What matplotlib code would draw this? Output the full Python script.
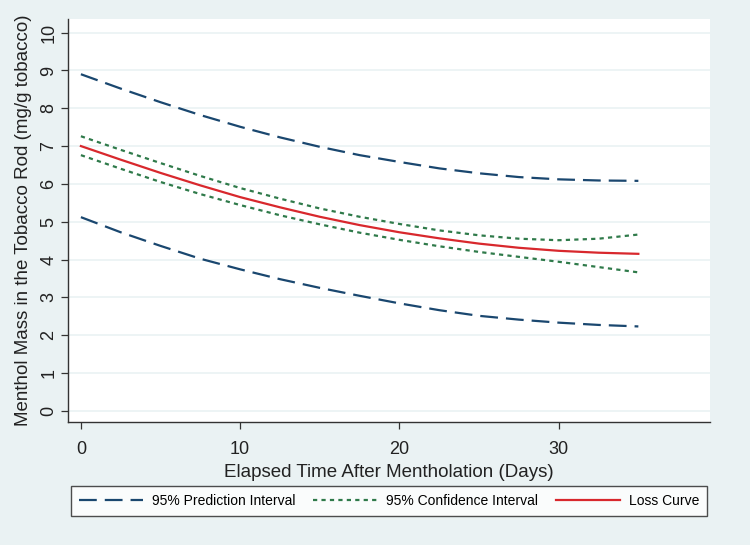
import numpy as np
import matplotlib
matplotlib.use("Agg")
import matplotlib.pyplot as plt

plt.rcParams['font.family'] = ['Liberation Sans', 'DejaVu Sans']

days = [0, 2.5, 5, 7.5, 10, 12.5, 15, 17.5, 20, 22.5, 25, 27.5, 30, 32.5, 35]

loss = [7.00, 6.64, 6.29, 5.96, 5.65, 5.38, 5.13, 4.91, 4.72, 4.56, 4.42, 4.31, 4.23, 4.18, 4.15]
ci_upper = [7.26, 6.90, 6.55, 6.21, 5.89, 5.61, 5.35, 5.13, 4.94, 4.77, 4.64, 4.55, 4.51, 4.55, 4.66]
ci_lower = [6.76, 6.40, 6.05, 5.73, 5.44, 5.17, 4.93, 4.71, 4.52, 4.35, 4.20, 4.07, 3.94, 3.80, 3.66]
pi_upper = [8.90, 8.52, 8.16, 7.82, 7.51, 7.23, 6.98, 6.76, 6.58, 6.41, 6.28, 6.18, 6.12, 6.09, 6.08]
pi_lower = [5.12, 4.72, 4.36, 4.02, 3.74, 3.48, 3.25, 3.04, 2.84, 2.66, 2.51, 2.41, 2.33, 2.27, 2.23]

bg = "#eaf2f3"
navy = "#1a476f"
green = "#2f7a4a"
red = "#d8282d"

fig = plt.figure(figsize=(7.5, 5.45), dpi=100, facecolor=bg)
ax = fig.add_axes([0.0913, 0.2262, 0.8554, 0.7389])
ax.set_facecolor("white")

pi1, = ax.plot(days, pi_upper, color=navy, lw=1.6, dashes=(8, 3.6), label="95% Prediction Interval")
ax.plot(days, pi_lower, color=navy, lw=1.6, dashes=(8, 3.6))
ci1, = ax.plot(days, ci_upper, color=green, lw=1.6, dashes=(1.9, 1.9), label="95% Confidence Interval")
ax.plot(days, ci_lower, color=green, lw=1.6, dashes=(1.9, 1.9))
lc, = ax.plot(days, loss, color=red, lw=1.6, label="Loss Curve")

ax.set_xlim(-0.78, 39.5)
ax.set_ylim(-0.29, 10.36)
ax.set_xticks([0, 10, 20, 30])
ax.set_yticks(range(0, 11))
ax.grid(axis="y", color=bg, lw=1.2)
ax.set_axisbelow(True)

for s in ["top", "right"]:
    ax.spines[s].set_visible(False)
for s in ["left", "bottom"]:
    ax.spines[s].set_color("#333333")
    ax.spines[s].set_linewidth(1.0)

ax.tick_params(axis="both", direction="out", length=5, width=0.9, color="#333333",
               labelsize=13, labelcolor="#222222")
ax.tick_params(axis="x", pad=9)
ax.tick_params(axis="y", pad=3)
for lab in ax.get_yticklabels():
    lab.set_rotation(90)
    lab.set_va("center")

ax.set_xlabel("Elapsed Time After Mentholation (Days)", fontsize=13.5, color="#222222", labelpad=4)
ax.set_ylabel("Menthol Mass in the Tobacco Rod (mg/g tobacco)", fontsize=13.5, color="#222222", labelpad=6)

leg = fig.legend(handles=[pi1, ci1, lc], loc="center",
                 bbox_to_anchor=(389 / 750, 1 - 501 / 545),
                 ncol=3, fontsize=10, frameon=True, fancybox=False,
                 handlelength=4.6, handletextpad=0.65, columnspacing=1.3,
                 borderpad=0.55, borderaxespad=0)
leg.get_frame().set_edgecolor("#222222")
leg.get_frame().set_linewidth(1.0)
leg.get_frame().set_facecolor("white")

fig.savefig("out.png", dpi=100, facecolor=bg)
